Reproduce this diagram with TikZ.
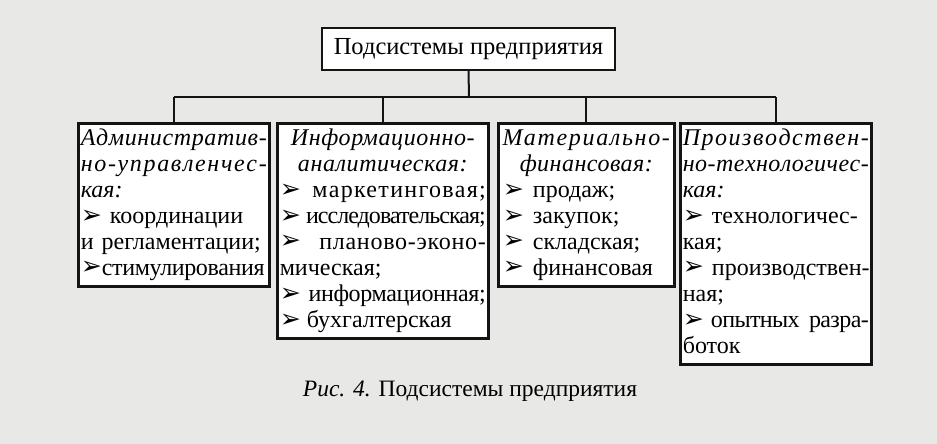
\documentclass[tikz,border=0pt]{standalone}
\usepackage{fontspec}
\usepackage{graphicx}
\setmainfont{Liberation Serif}
\newfontfamily\arrowfont{DejaVu Sans}
\newcommand{\arr}{{\arrowfont\scalebox{1.05}{➢}}}
\makeatletter
\def\spread@#1#2\@nil{#1\ifx\relax#2\relax\else\hfil\spread@#2\@nil\fi}
\newcommand{\Iline}[1]{\noindent\hbox to\hsize{\strut\itshape\spread@#1\@nil}\par}
\makeatother
\newcommand{\Lline}[1]{\noindent\hbox to\hsize{\strut#1\hfil}\par}
\newcommand{\Cline}[1]{\noindent\hbox to\hsize{\strut\hfil#1\hfil}\par}
\newcommand{\Jline}[2]{\noindent\hbox to\hsize{\strut#1\hfil#2}\par}
\definecolor{paper}{RGB}{232,232,230}
\definecolor{ink}{RGB}{20,20,20}
\tikzset{
  topbox/.style={draw=ink, line width=2.4pt, fill=white, minimum width=293pt, minimum height=42pt, inner sep=0pt, font=\fontsize{24.5}{28}\selectfont},
  subbox/.style={draw=ink, line width=2.6pt, fill=white, anchor=north west, inner xsep=2.5pt, inner ysep=3.5pt, font=\fontsize{24}{26}\selectfont},
  conn/.style={draw=ink, line width=2pt},
}
\begin{document}
\begin{tikzpicture}[x=1pt,y=-1pt]
\fill[paper] (0,0) rectangle (937,444);
\useasboundingbox (0,0) rectangle (937,444);
\node[topbox] (top) at (468.5,49) {Подсистемы предприятия};
\node[subbox, text width=186pt] (b1) at (77,122) {%
\Iline{Административ-}
\Iline{но-управленчес-}
\Lline{\itshape кая:}
\Lline{\arr\hspace{8pt}координации}
\Lline{и регламентации;}
\Lline{\arr\addfontfeatures{LetterSpace=-1.5}стимулирования}};
\node[subbox, text width=206pt] (b2) at (276,122) {%
\Cline{\itshape\addfontfeatures{LetterSpace=2.5}Информационно-}
\Cline{\itshape\addfontfeatures{LetterSpace=2.5}аналитическая:}
\Jline{\arr}{\addfontfeatures{LetterSpace=5.5}маркетинговая;}
\Jline{\arr}{\addfontfeatures{LetterSpace=-4}исследовательская;}
\Jline{\arr}{\addfontfeatures{LetterSpace=3}планово-эконо-}
\Lline{мическая;}
\Jline{\arr}{\addfontfeatures{LetterSpace=-1.5}информационная;}
\Lline{\arr\hspace{6pt}бухгалтерская}};
\node[subbox, text width=171pt] (b3) at (497,122) {%
\Cline{\itshape\addfontfeatures{LetterSpace=7}Материально-}
\Cline{\itshape\addfontfeatures{LetterSpace=2}финансовая:}
\Lline{\hspace{2pt}\arr\hspace{9pt}продаж;}
\Lline{\hspace{2pt}\arr\hspace{9pt}закупок;}
\Lline{\hspace{2pt}\arr\hspace{9pt}складская;}
\Lline{\hspace{2pt}\arr\hspace{9pt}финансовая}};
\node[subbox, text width=186pt] (b4) at (679,122) {%
\Iline{Производствен-}
\Iline{но-технологичес-}
\Lline{\itshape кая:}
\Lline{\arr\hspace{8pt}технологичес-}
\Lline{кая;}
\Jline{\arr\hspace{8pt}}{производствен-}
\Lline{ная;}
\Jline{\arr\hspace{7pt}\addfontfeatures{LetterSpace=-2.5}опытных}{\addfontfeatures{LetterSpace=-2.5}разра-}
\Lline{боток}};
\coordinate (bar) at (469,97);
\draw[conn] (top.south) -- (bar);
\draw[conn] (b1.north |- bar) -- (b4.north |- bar);
\foreach \b in {b1,b2,b3,b4} \draw[conn] (\b.north |- bar) -- (\b.north);
\node[font=\fontsize{23.5}{28}\selectfont] (cap) at (470,391) {\textit{Рис. 4.} Подсистемы предприятия};
\end{tikzpicture}
\end{document}
